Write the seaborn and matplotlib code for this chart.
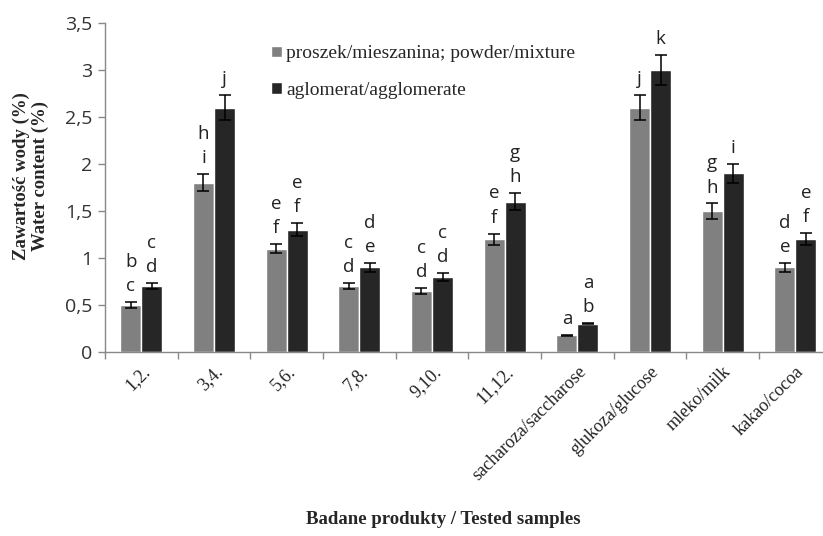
import matplotlib
matplotlib.use("Agg")
import matplotlib.pyplot as plt
import seaborn as sns
import pandas as pd
import numpy as np

categories = ["1,2.", "3,4.", "5,6.", "7,8.", "9,10.", "11,12.",
              "sacharoza/saccharose", "glukoza/glucose", "mleko/milk", "kakao/cocoa"]
series_names = ["proszek/mieszanina; powder/mixture", "aglomerat/agglomerate"]
powder = [0.50, 1.80, 1.10, 0.70, 0.65, 1.20, 0.18, 2.60, 1.50, 0.90]
agglom = [0.70, 2.60, 1.30, 0.90, 0.80, 1.60, 0.30, 3.00, 1.90, 1.20]
powder_err = [0.03, 0.09, 0.05, 0.035, 0.03, 0.06, 0.005, 0.13, 0.08, 0.045]
agglom_err = [0.035, 0.13, 0.07, 0.045, 0.04, 0.09, 0.005, 0.16, 0.10, 0.065]
powder_letters = [["c", "b"], ["i", "h"], ["f", "e"], ["d", "c"], ["d", "c"],
                  ["f", "e"], ["a"], ["j"], ["h", "g"], ["e", "d"]]
agglom_letters = [["d", "c"], ["j"], ["f", "e"], ["e", "d"], ["d", "c"],
                  ["h", "g"], ["b", "a"], ["k"], ["i"], ["f", "e"]]
y_ticks = [0, 0.5, 1, 1.5, 2, 2.5, 3, 3.5]
y_ticklabels = ["0", "0,5", "1", "1,5", "2", "2,5", "3", "3,5"]

df = pd.DataFrame({
    "cat": categories * 2,
    "series": [series_names[0]] * len(categories) + [series_names[1]] * len(categories),
    "val": powder + agglom,
})

sns.set_style("white")
plt.rcParams["font.family"] = ["DejaVu Sans"]
serif = "Liberation Serif"
sans = ["Open Sans", "DejaVu Sans"]

fig = plt.figure(figsize=(8.23, 5.36), dpi=100)
ax = fig.add_axes([0.1276, 0.3433, 0.883, 0.6138])

palette = {series_names[0]: "#808080", series_names[1]: "#262626"}
sns.barplot(data=df, x="cat", y="val", hue="series", order=categories,
            hue_order=series_names, palette=palette, width=0.58,
            errorbar=None, saturation=1, ax=ax, legend=True)

errs = [powder_err, agglom_err]
letters = [powder_letters, agglom_letters]
vals = [powder, agglom]
bar_containers = list(ax.containers)
for k, cont in enumerate(bar_containers):
    xs = [p.get_x() + p.get_width() / 2 for p in cont.patches]
    ax.errorbar(xs, vals[k], yerr=errs[k], fmt="none", ecolor="black",
                elinewidth=1.1, capsize=4, capthick=1.1, zorder=5)
    for i, x in enumerate(xs):
        top = vals[k][i] + errs[k][i]
        for j, letter in enumerate(letters[k][i]):
            ax.annotate(letter, xy=(x, top), xytext=(0, 5 + 17.5 * j),
                        textcoords="offset points", ha="center", va="bottom",
                        fontsize=13.5, color="#222222", family=sans)

ax.set_ylim(0, 3.5)
ax.set_xlim(-0.5, len(categories) - 0.5)
ax.set_yticks(y_ticks)
ax.set_yticklabels(y_ticklabels, fontsize=14, family=sans, color="#333333")
ax.set_xticks(range(len(categories)))
ax.set_xticklabels(categories, rotation=45, ha="right", rotation_mode="anchor",
                   fontsize=13, family=serif, color="#222222")
ax.set_xticks(np.arange(-0.5, len(categories), 1.0), minor=True)
ax.tick_params(axis="x", which="major", length=0, pad=8)
ax.tick_params(axis="x", which="minor", length=5, color="#888888", direction="out", width=1)
ax.tick_params(axis="y", length=5, color="#888888", direction="out", width=1, pad=4)
ax.tick_params(bottom=True, left=True, which="both")

for s in ["top", "right"]:
    ax.spines[s].set_visible(False)
for s in ["left", "bottom"]:
    ax.spines[s].set_color("#888888")
    ax.spines[s].set_linewidth(1.0)

ax.set_xlabel("Badane produkty / Tested samples", fontsize=13.5, family=serif,
              fontweight="bold")
ax.xaxis.set_label_coords(0.465, -0.51)
ax.xaxis.label.set_va("center")
ax.set_ylabel("Zawartość wody (%)\nWater content (%)", fontsize=13.5, family=serif,
              fontweight="bold", linespacing=1.1)
ax.yaxis.set_label_coords(-0.102, 0.535)
ax.yaxis.label.set_va("center")

leg = ax.legend(loc="upper left", bbox_to_anchor=(0.205, 0.985), frameon=False,
                prop={"family": serif, "size": 14}, handlelength=0.55, handleheight=0.55,
                handletextpad=0.2, labelspacing=1.0)

fig.savefig("out.png", dpi=100)
